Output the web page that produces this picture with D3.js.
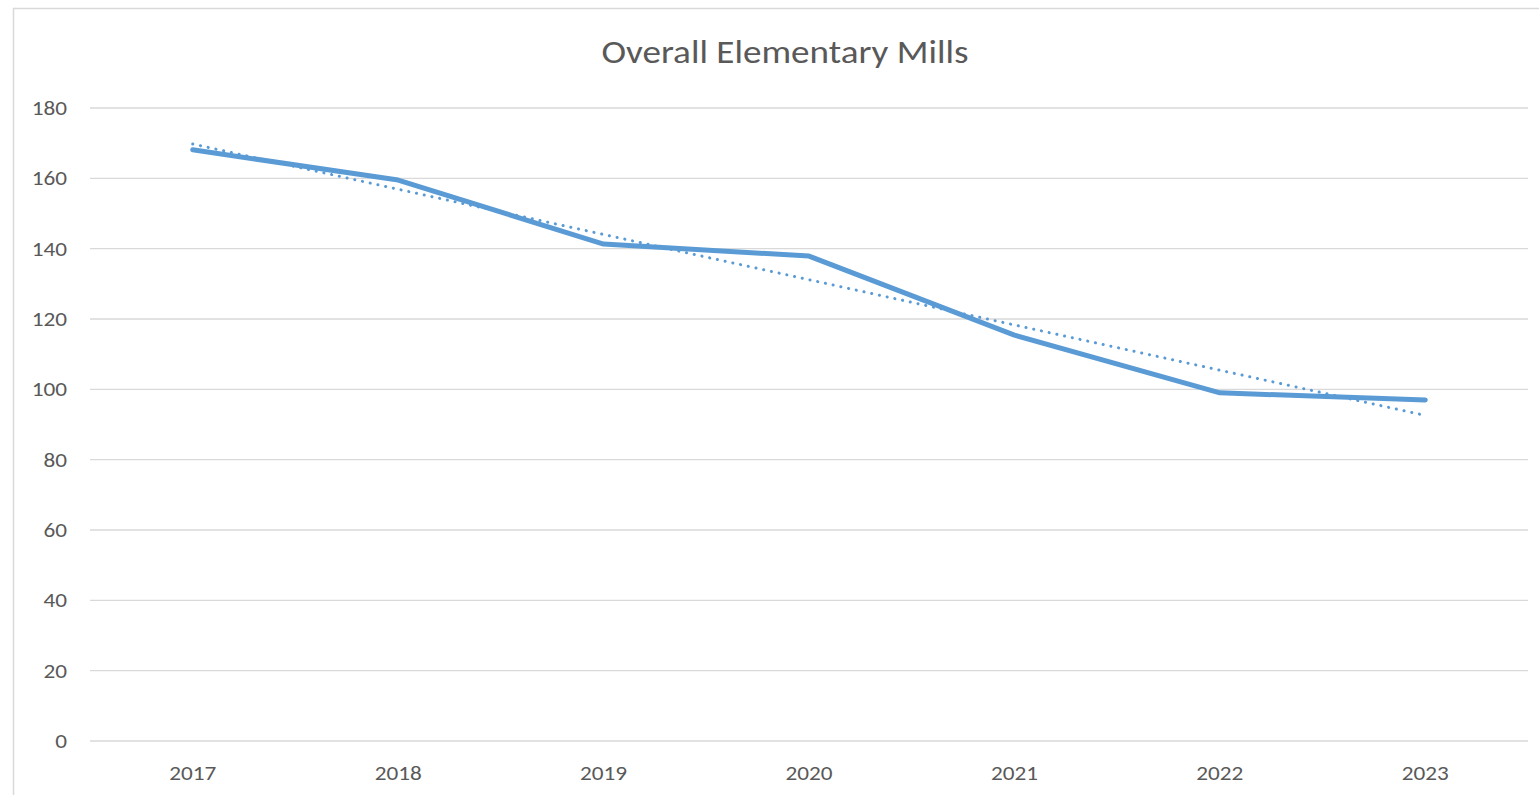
<!DOCTYPE html>
<html><head><meta charset="utf-8">
<script src="https://cdn.jsdelivr.net/npm/d3@7"></script>
<style>body{margin:0;background:#fff}svg{display:block}</style>
</head><body><svg id="c" width="1539" height="795"></svg>
<script>
const years = ["2017","2018","2019","2020","2021","2022","2023"];
const mills = [168.1, 159.5, 141.3, 137.9, 115.4, 99.0, 97.0];
const yTicks = [0,20,40,60,80,100,120,140,160,180];
const title = "Overall Elementary Mills";

const svg = d3.select("#c");
const font = "Carlito, Calibri, 'Open Sans', 'Liberation Sans', sans-serif";
const sx = 1.16;
svg.append("rect").attr("x",13.5).attr("y",8.5).attr("width",1540).attr("height",800)
  .attr("fill","#fff").attr("stroke","#d9d9d9").attr("stroke-width",1.5);

const L=90, R=1528, T=108, B=741;
const x = d3.scaleBand().domain(years).range([L,R]);
const y = d3.scaleLinear().domain([0,180]).range([B,T]);
const cx = d => x(d)+x.bandwidth()/2;

svg.append("g").selectAll("line").data(yTicks).join("line")
  .attr("x1",L).attr("x2",R).attr("y1",d=>y(d)).attr("y2",d=>y(d))
  .attr("stroke","#d9d9d9").attr("stroke-width",1.3);

const yAxis = d3.axisLeft(y).tickValues(yTicks).tickSize(0).tickPadding(0);
const gy = svg.append("g").attr("transform",`translate(${67},0)`).call(yAxis);
gy.select(".domain").remove();
gy.selectAll("text").attr("font-family",font).attr("font-size",20).attr("fill","#595959")
  .attr("dy","0.33em").attr("transform",`scale(${sx},1)`);

const xAxis = d3.axisBottom(x).tickSize(0).tickPadding(0);
const gx = svg.append("g").attr("transform",`translate(0,${780})`).call(xAxis);
gx.select(".domain").remove();
gx.selectAll("text").attr("font-family",font).attr("font-size",20).attr("fill","#595959")
  .attr("dy","0").attr("y",0).attr("transform",`scale(${sx},1)`);

// linear trendline (least squares)
const n = mills.length, idx = d3.range(n);
const mx = d3.mean(idx), my = d3.mean(mills);
const slope = d3.sum(idx,i=>(i-mx)*(mills[i]-my))/d3.sum(idx,i=>(i-mx)*(i-mx));
const icpt = my - slope*mx;
const trend = [0,n-1].map(i=>[cx(years[i]), y(icpt+slope*i)]);

svg.append("path").attr("d",d3.line()(years.map((d,i)=>[cx(d),y(mills[i])])))
  .attr("fill","none").attr("stroke","#5B9BD5").attr("stroke-width",5)
  .attr("stroke-linejoin","round").attr("stroke-linecap","round");
svg.append("path").attr("d",d3.line()(trend))
  .attr("fill","none").attr("stroke","#5B9BD5").attr("stroke-width",3)
  .attr("stroke-dasharray","0.1 7.8").attr("stroke-linecap","round");

svg.append("text").attr("transform",`translate(785,63) scale(${sx},1)`).attr("text-anchor","middle")
  .attr("font-family",font).attr("font-size",32).attr("fill","#595959").text(title);
</script></body></html>
